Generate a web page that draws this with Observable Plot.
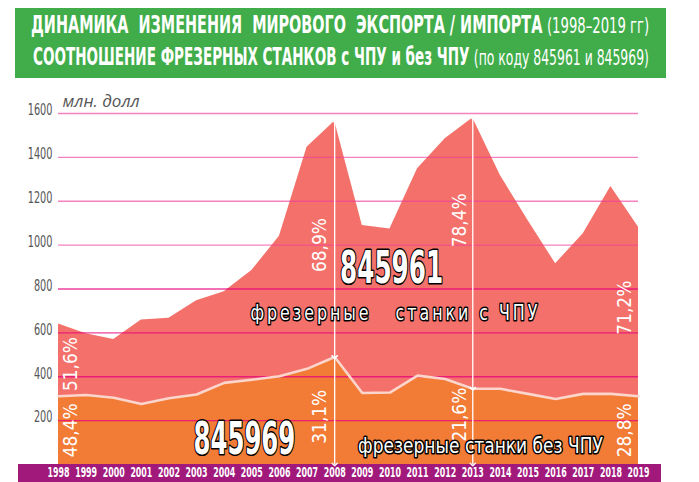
<!DOCTYPE html>
<html><head><meta charset="utf-8">
<script src="https://cdn.jsdelivr.net/npm/d3@7"></script>
<script src="https://cdn.jsdelivr.net/npm/@observablehq/plot@0.6"></script>
<style>
body{margin:0;background:#fff;width:699px;height:482px;overflow:hidden;font-family:'Liberation Sans Narrow','DejaVu Sans Condensed',Roboto,sans-serif}
#head{position:relative;height:85px}
#banner{position:absolute;left:15px;top:8px;width:651px;height:70px;background:#40ad4a}
.line{position:absolute;left:0;width:100%;display:flex;justify-content:center;white-space:nowrap;color:#fff;font-size:24px;line-height:26px}
.fit{display:inline-block;width:max-content;flex:none;transform-origin:center}
.b{font-weight:700}.l{font-weight:300;font-size:22px}
#chart svg{display:block}
</style></head><body>
<div id="head"><div id="banner">
<div class="line" style="top:4px"><span class="fit" id="t1"><span class="b">ДИНАМИКА&nbsp; ИЗМЕНЕНИЯ&nbsp; МИРОВОГО&nbsp; ЭКСПОРТА / ИМПОРТА</span> <span class="l">(1998–2019 гг)</span></span></div>
<div class="line" style="top:36px"><span class="fit" id="t2"><span class="b">СООТНОШЕНИЕ ФРЕЗЕРНЫХ СТАНКОВ с ЧПУ и без ЧПУ</span> <span class="l">(по коду 845961 и 845969)</span></span></div>
</div></div>
<div id="chart"></div>
<script>
// ---- data (млн. долл) ----
const years = [1998,1999,2000,2001,2002,2003,2004,2005,2006,2007,2008,2009,2010,2011,2012,2013,2014,2015,2016,2017,2018,2019];
const cnc845961 = [330,279,266,383,365,428,416,498,638,1010,1075,763,746,943,1095,1235,972,790,616,730,945,771];
const nonCnc845969 = [311,317,304,276,302,319,372,386,402,436,490,326,328,405,390,345,345,322,299,322,322,311];
const shareYears = [1998,2008,2013,2019];
const shareCnc = ["51,6%","68,9%","78,4%","71,2%"];
const shareNon = ["48,4%","31,1%","21,6%","28,8%"];
const yTicks = [200,400,600,800,1000,1200,1400,1600];
const unitLabel = "млн. долл";

// ---- title fit ----
function fitSpan(id, w){const el=document.getElementById(id);const r=el.offsetWidth;el.style.transform=`scaleX(${w/r})`;}
fitSpan("t1",618); fitSpan("t2",616);

const data = years.map((year,i)=>({year, cnc:cnc845961[i], non:nonCnc845969[i], total:cnc845961[i]+nonCnc845969[i]}));
const F = "'Liberation Sans Narrow','DejaVu Sans Condensed',Roboto,sans-serif";
const arrowData = data.filter(d=>d.year===2008||d.year===2013);
const shareData = shareYears.map((year,i)=>{const d=data.find(e=>e.year===year);return {year,cncLabel:shareCnc[i],nonLabel:shareNon[i],cncMid:(d.total+d.non)/2,nonMid:d.non/2};});
const dxByYear = {1998:12,2008:-15,2013:-13,2019:-14};
const dyCnc = {1998:4,2008:6,2013:-33,2019:-4};
const dyNon = {1998:0,2008:6,2013:-12,2019:0};

const shareMarks = shareData.flatMap(d=>[
  Plot.text([d],{x:"year",y:"cncMid",text:"cncLabel",rotate:-90,dx:dxByYear[d.year],dy:dyCnc[d.year],fill:"white",fontSize:20,className:"pct"}),
  Plot.text([d],{x:"year",y:"nonMid",text:"nonLabel",rotate:-90,dx:dxByYear[d.year],dy:dyNon[d.year],fill:"white",fontSize:20,className:"pct"})
]);

const plot = Plot.plot({
  width:699, height:397,
  marginTop:28, marginBottom:18, marginLeft:58, marginRight:61,
  x:{domain:[1998,2019], axis:null},
  y:{domain:[0,1600], axis:null},
  style:{fontFamily:F, background:"transparent", overflow:"visible"},
  marks:[
    Plot.areaY(data,{x:"year",y:"total",fill:"#f3716a"}),
    Plot.areaY(data,{x:"year",y:"non",fill:"#f27b36"}),
    Plot.ruleY(yTicks.filter(v=>v>=1000),{stroke:"#ee3d9b",strokeOpacity:0.65,strokeWidth:1.3}),
    Plot.ruleY(yTicks.filter(v=>v<1000),{stroke:"#e6007e",strokeOpacity:0.75,strokeWidth:1.3}),
    Plot.lineY(data,{x:"year",y:"non",stroke:"#fcd6cd",strokeWidth:2.6}),
    Plot.link(arrowData,{x1:"year",x2:"year",y1:"total",y2:"non",stroke:"white",strokeWidth:1.3,markerStart:"arrow",markerEnd:"arrow"}),
    Plot.link(arrowData,{x1:"year",x2:"year",y1:"non",y2:()=>0,stroke:"white",strokeWidth:1.3,markerStart:"arrow",markerEnd:"arrow"}),
    Plot.axisY({ticks:yTicks,tickFormat:d=>String(d),tickSize:0,tickPadding:6,fontSize:15,fill:"#555",dy:-3,label:null,className:"yax"}),
    Plot.axisX({ticks:years,tickFormat:d=>String(d),tickSize:0,tickPadding:3,fontSize:14,fontWeight:"bold",color:"white",label:null,className:"xax"}),
    Plot.text([unitLabel],{x:()=>1998,y:()=>1600,text:d=>d,dx:4,dy:-7,textAnchor:"start",lineAnchor:"bottom",fontSize:17,fontStyle:"italic",fill:"#555",fontFamily:"'Open Sans',sans-serif"}),
    ...shareMarks,
    Plot.text(["845961"],{x:()=>2010.06,y:()=>893,text:d=>d,fontSize:44,fontWeight:"bold",fill:"white",stroke:"black",strokeWidth:3,className:"big1"}),
    Plot.text(["фрезерные\u00a0\u00a0 станки с ЧПУ"],{x:()=>2010.2,y:()=>693,text:d=>d,fontSize:22,fill:"white",stroke:"black",strokeWidth:3,className:"sub1"}),
    Plot.text(["845969"],{x:()=>2004.73,y:()=>114,text:d=>d,fontSize:44,fontWeight:"bold",fill:"white",stroke:"black",strokeWidth:3,className:"big2"}),
    Plot.text(["фрезерные станки без ЧПУ"],{x:()=>2013.28,y:()=>82,text:d=>d,fontSize:21,fill:"white",stroke:"black",strokeWidth:3,className:"sub2"})
  ]
});

const svg = d3.select(plot);
const xs = plot.scale("x"), ys = plot.scale("y");
svg.insert("rect",":first-child")
  .attr("x",xs.apply(1998)-40).attr("width",xs.apply(2019)-xs.apply(1998)+63)
  .attr("y",ys.apply(0)).attr("height",397-ys.apply(0)+1).attr("fill","#a2197c");
document.getElementById("chart").appendChild(plot);

// condense texts horizontally (no narrow font installed); self-checking, falls back to textLength
function centerOf(el){const r=el.getBoundingClientRect();return [r.x+r.width/2,r.y+r.height/2,r.width,r.height];}
function squeeze(cls, target, spacingTo){
  svg.selectAll(`.${cls} text`).each(function(){
    const el=this;
    const tgt = typeof target==="function"?target(el.textContent):target;
    const [bx,by,bw,bh] = centerOf(el);
    const len0 = el.getComputedTextLength();
    const saved = {t:el.getAttribute("transform"), x:el.getAttribute("x"), y:el.getAttribute("y")};
    let k = spacingTo ? tgt : tgt/len0;
    let ok = false;
    try {
      if (spacingTo) el.setAttribute("letter-spacing", ((spacingTo/k - len0)/el.textContent.length).toFixed(2));
      const pm = el.parentNode.getCTM(), em = el.getCTM();
      let m = pm.inverse().multiply(em);
      const xl = el.x.baseVal, yl = el.y.baseVal;
      const x = xl.numberOfItems ? xl.getItem(0).value : 0;
      const y = yl.numberOfItems ? yl.getItem(0).value : 0;
      m = m.translate(x,y).scaleNonUniform(k,1);
      el.removeAttribute("x"); el.removeAttribute("y");
      el.setAttribute("transform", `matrix(${m.a},${m.b},${m.c},${m.d},${m.e},${m.f})`);
      const [ax,ay] = centerOf(el);
      ok = Math.abs(ax-bx) < Math.max(20,bw) && Math.abs(ay-by) < Math.max(20,bh) && isFinite(k);
    } catch(e) { ok = false; }
    if (!ok) {
      if (saved.t===null) el.removeAttribute("transform"); else el.setAttribute("transform",saved.t);
      if (saved.x!==null) el.setAttribute("x",saved.x);
      if (saved.y!==null) el.setAttribute("y",saved.y);
      el.removeAttribute("letter-spacing");
      el.setAttribute("textLength", spacingTo||tgt);
      el.setAttribute("lengthAdjust", spacingTo?"spacing":"spacingAndGlyphs");
    }
  });
}
squeeze("xax",22);
squeeze("yax",t=>t.length*6.2);
squeeze("pct",54);
squeeze("big1",103);
squeeze("big2",102);
squeeze("sub1",0.8,290);
squeeze("sub2",245);
</script>
</body></html>
